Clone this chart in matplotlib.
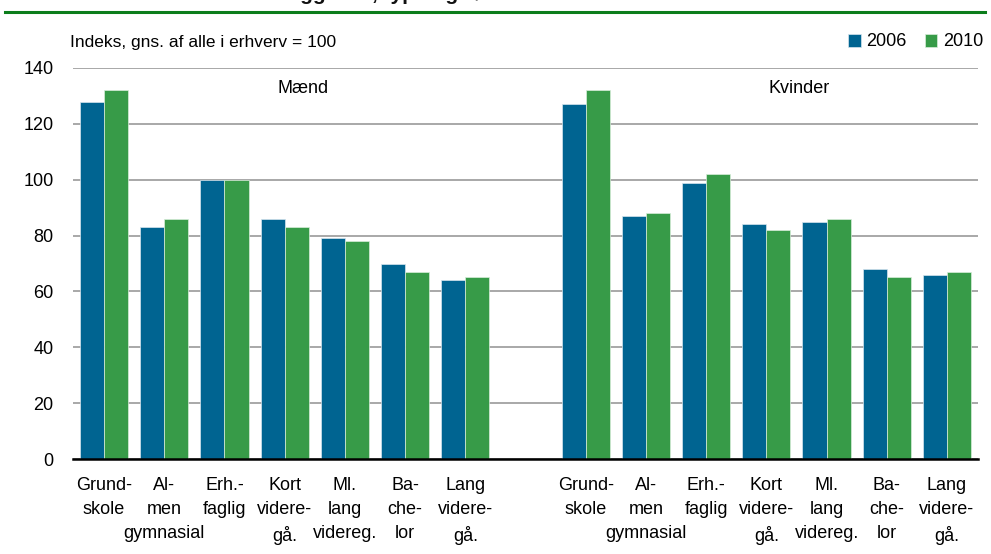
import matplotlib
matplotlib.use("Agg")
import matplotlib.pyplot as plt
import numpy as np

plt.rcParams['font.family'] = ['Liberation Sans Narrow', 'Liberation Sans', 'DejaVu Sans']

categories = ["Grund-\nskole", "Al-\nmen\ngymnasial", "Erh.-\nfaglig", "Kort\nvidere-\ngå.",
              "Ml.\nlang\nvidereg.", "Ba-\nche-\nlor", "Lang\nvidere-\ngå."]
groups = ["Mænd", "Kvinder"]
maend_2006 = [128, 83, 100, 86, 79, 70, 64]
maend_2010 = [132, 86, 100, 83, 78, 67, 65]
kvinder_2006 = [127, 87, 99, 84, 85, 68, 66]
kvinder_2010 = [132, 88, 102, 82, 86, 65, 67]
series_labels = ["2006", "2010"]
yticks = [0, 20, 40, 60, 80, 100, 120, 140]
title_text = "Indkomst efter uddannelsesbaggrund, type og køn"
title_prefix = "Indkomst efter uddannelsesba"

c_blue = "#006491"
c_green = "#379B48"

fig = plt.figure(figsize=(9.91, 5.54), dpi=100)
ax = fig.add_axes([73/991, 1-459/554, (978-73)/991, (459-68)/554])

n = len(categories)
x_m = np.arange(n)
x_k = np.arange(n) + n + 1
w = 0.4
v2006 = maend_2006 + kvinder_2006
v2010 = maend_2010 + kvinder_2010
xs = np.concatenate([x_m, x_k])
b1 = ax.bar(xs - w/2, v2006, width=w, color=c_blue, edgecolor='#d8e6ee', linewidth=0.5, zorder=3, label=series_labels[0])
b2 = ax.bar(xs + w/2, v2010, width=w, color=c_green, edgecolor='#d8eedb', linewidth=0.5, zorder=3, label=series_labels[1])

ax.set_xlim(-0.515, 2*n + 0.515)
ax.set_ylim(0, 140)
ax.set_yticks(yticks)
ax.set_yticklabels([str(t) for t in yticks], fontsize=13)
ax.tick_params(axis='y', length=0, pad=14)
ax.set_xticks(xs)
ax.set_xticklabels(categories * 2, fontsize=13, linespacing=1.55)
ax.tick_params(axis='x', length=0, pad=13)
for s in ax.spines.values():
    s.set_visible(False)
ax.grid(axis='y', color='#999999', linewidth=1.2, zorder=0)
ax.set_axisbelow(True)
ax.axhline(0, color='black', linewidth=1.8, zorder=4, clip_on=False)

ax.text(3.3, 132.5, groups[0], ha='center', va='center', fontsize=13)
ax.text(11.55, 132.5, groups[1], ha='center', va='center', fontsize=13)

fig.text(70/991, 1-42/554, "Indeks, gns. af alle i erhverv = 100", ha='left', va='center', fontsize=12.5)

leg = fig.legend(handles=[b1, b2], labels=series_labels, loc='center right',
                 bbox_to_anchor=(983/991, 1-42/554), ncol=2, frameon=False, fontsize=13,
                 handlelength=0.7, handleheight=0.7, handletextpad=0.3, columnspacing=1.0,
                 borderaxespad=0, borderpad=0)

# partial title (cut off at top, as in the reference) and green rule
renderer = fig.canvas.get_renderer()
probe = fig.text(0, 0, title_prefix, fontsize=15, fontweight='bold')
pw = probe.get_window_extent(renderer).width
probe.remove()
fig.text((300 - pw)/991, 1+0.5/554, title_text,
         ha='left', va='baseline', fontsize=15, fontweight='bold', color='#111111')
fig.add_artist(plt.Line2D([5/991, 985/991], [1-11.5/554, 1-11.5/554], color='#0b7d1b', linewidth=2.2))

fig.savefig("out.png", dpi=100)
